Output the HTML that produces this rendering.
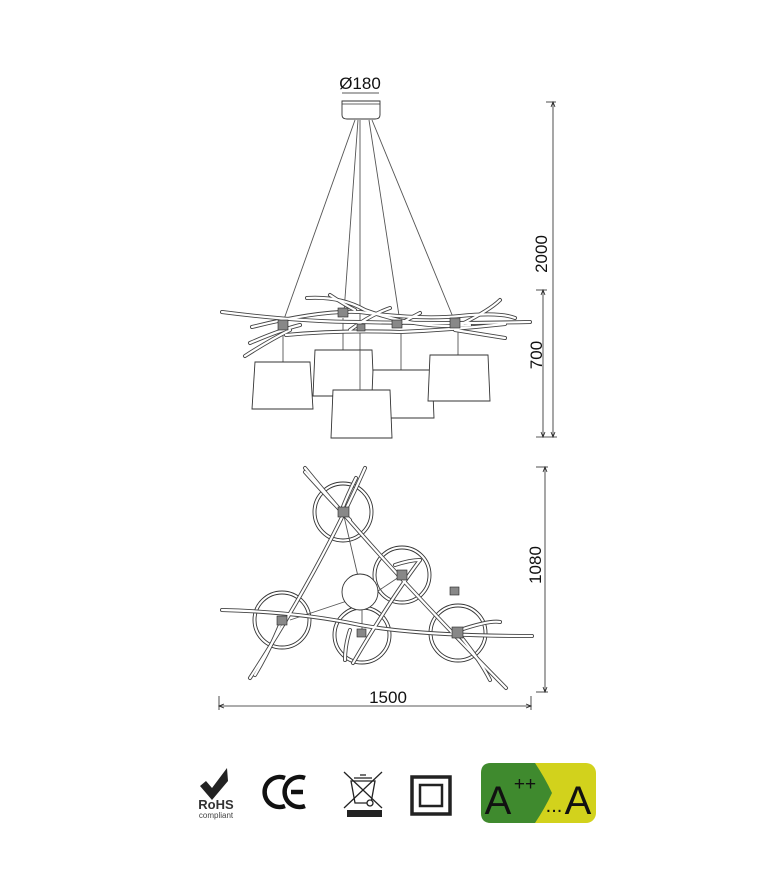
<!DOCTYPE html>
<html><head><meta charset="utf-8"><style>
html,body{margin:0;padding:0;background:#fff}
svg{display:block}
text{font-family:"Liberation Sans",Arial,sans-serif}
</style></head><body>
<svg width="761" height="896" viewBox="0 0 761 896" xmlns="http://www.w3.org/2000/svg">
<!-- ===== Side view ===== -->
<text x="360" y="89" font-size="17" text-anchor="middle" fill="#111">Ø180</text>
<line x1="342" y1="93" x2="379" y2="93" stroke="#222" stroke-width="0.8"/>
<path d="M342,101 H380 V115 Q380,119 375,119 H347 Q342,119 342,115 Z" fill="#fff" stroke="#333" stroke-width="0.9"/>
<line x1="342" y1="104" x2="380" y2="104" stroke="#333" stroke-width="0.7"/>
<g stroke="#555" stroke-width="0.9" fill="none">
<line x1="355" y1="120" x2="283" y2="322"/>
<line x1="358" y1="120" x2="344" y2="312"/>
<line x1="360" y1="120" x2="360" y2="390"/>
<line x1="369" y1="120" x2="400" y2="322"/>
<line x1="372" y1="120" x2="455" y2="322"/>
<line x1="283" y1="328" x2="283" y2="362"/>
<line x1="343" y1="318" x2="343" y2="350"/>
<line x1="401" y1="332" x2="401" y2="370"/>
<line x1="458" y1="332" x2="458" y2="355"/>
</g>
<g fill="none" stroke-linecap="round">
<g stroke="#444" stroke-width="4">
<path d="M222,312 Q300,322 360,322 Q440,324 530,322"/>
<path d="M252,327 Q320,310 360,312 Q420,320 460,316 Q500,312 515,318"/>
<path d="M250,343 Q280,330 300,325"/>
<path d="M245,356 Q270,340 290,330"/>
<path d="M307,298 Q340,296 365,310 Q420,330 470,325"/>
<path d="M330,295 Q345,305 355,310"/>
<path d="M350,330 Q370,315 390,308"/>
<path d="M400,324 Q410,318 420,313"/>
<path d="M455,330 Q480,334 505,338"/>
<path d="M460,325 Q490,310 500,300"/>
<path d="M286,335 Q340,330 400,332 Q450,330 505,324"/>
</g>
<g stroke="#fff" stroke-width="2.2">
<path d="M222,312 Q300,322 360,322 Q440,324 530,322"/>
<path d="M252,327 Q320,310 360,312 Q420,320 460,316 Q500,312 515,318"/>
<path d="M250,343 Q280,330 300,325"/>
<path d="M245,356 Q270,340 290,330"/>
<path d="M307,298 Q340,296 365,310 Q420,330 470,325"/>
<path d="M330,295 Q345,305 355,310"/>
<path d="M350,330 Q370,315 390,308"/>
<path d="M400,324 Q410,318 420,313"/>
<path d="M455,330 Q480,334 505,338"/>
<path d="M460,325 Q490,310 500,300"/>
<path d="M286,335 Q340,330 400,332 Q450,330 505,324"/>
</g>
</g>
<g fill="#888" stroke="#222" stroke-width="0.6">
<rect x="278" y="320" width="10" height="10"/>
<rect x="338" y="308" width="10" height="9"/>
<rect x="392" y="320" width="10" height="8"/>
<rect x="450" y="318" width="10" height="10"/>
<rect x="357" y="324" width="8" height="7"/>
</g>
<g fill="#fff" stroke="#333" stroke-width="0.9">
<path d="M315,350 H372 L374,396 H313 Z"/>
<path d="M373,370 H432 L434,418 H371 Z"/>
<path d="M255,362 H310 L313,409 H252 Z"/>
<path d="M430,355 H488 L490,401 H428 Z"/>
<path d="M333,390 H390 L392,438 H331 Z"/>
</g>
<line x1="360" y1="350" x2="360" y2="390" stroke="#555" stroke-width="0.9"/>
<g stroke="#222" stroke-width="0.8" fill="none">
<line x1="553" y1="102" x2="553" y2="437"/>
<line x1="546" y1="102" x2="556" y2="102"/>
<line x1="543" y1="290" x2="543" y2="437"/>
<line x1="536" y1="290" x2="547" y2="290"/>
<line x1="536" y1="437" x2="557" y2="437"/>
<path d="M551,107 L553,102 L555,107"/>
<path d="M551,432 L553,437 L555,432"/>
<path d="M541,295 L543,290 L545,295"/>
<path d="M541,432 L543,437 L545,432"/>
</g>
<text transform="translate(547,254) rotate(-90)" font-size="17" text-anchor="middle" fill="#111">2000</text>
<text transform="translate(542,355) rotate(-90)" font-size="17" text-anchor="middle" fill="#111">700</text>

<!-- ===== Top view ===== -->
<g fill="none" stroke="#333" stroke-width="0.9">
<circle cx="343" cy="512" r="30"/><circle cx="343" cy="512" r="27"/>
<circle cx="402" cy="575" r="29"/><circle cx="402" cy="575" r="26"/>
<circle cx="282" cy="620" r="29"/><circle cx="282" cy="620" r="26"/>
<circle cx="362" cy="635" r="29"/><circle cx="362" cy="635" r="26"/>
<circle cx="458" cy="633" r="29"/><circle cx="458" cy="633" r="26"/>
<line x1="343" y1="512" x2="360" y2="585" stroke="#555"/>
<line x1="290" y1="620" x2="350" y2="600" stroke="#555"/>
<line x1="372" y1="595" x2="402" y2="575" stroke="#555"/>
<line x1="362" y1="610" x2="362" y2="635" stroke="#555"/>
</g>
<circle cx="360" cy="592" r="18" fill="#fff" stroke="#333" stroke-width="0.9"/>
<g fill="none" stroke-linecap="round">
<g stroke="#444" stroke-width="4">
<path d="M305,468 Q380,560 506,688"/>
<path d="M365,468 Q320,570 250,678"/>
<path d="M222,610 Q300,612 360,625 Q420,636 532,636"/>
<path d="M305,472 Q330,500 350,520"/>
<path d="M356,478 Q345,500 340,515"/>
<path d="M420,560 Q390,600 353,663"/>
<path d="M255,675 Q270,650 282,620"/>
<path d="M458,633 Q480,660 490,680"/>
<path d="M350,630 Q345,645 345,660"/>
<path d="M395,565 Q410,560 420,560"/>
<path d="M460,630 Q490,620 500,622"/>
</g>
<g stroke="#fff" stroke-width="2.2">
<path d="M305,468 Q380,560 506,688"/>
<path d="M365,468 Q320,570 250,678"/>
<path d="M222,610 Q300,612 360,625 Q420,636 532,636"/>
<path d="M305,472 Q330,500 350,520"/>
<path d="M356,478 Q345,500 340,515"/>
<path d="M420,560 Q390,600 353,663"/>
<path d="M255,675 Q270,650 282,620"/>
<path d="M458,633 Q480,660 490,680"/>
<path d="M350,630 Q345,645 345,660"/>
<path d="M395,565 Q410,560 420,560"/>
<path d="M460,630 Q490,620 500,622"/>
</g>
</g>
<g fill="#888" stroke="#222" stroke-width="0.6">
<rect x="338" y="507" width="11" height="10"/>
<rect x="397" y="570" width="10" height="10"/>
<rect x="277" y="616" width="10" height="9"/>
<rect x="357" y="629" width="9" height="8"/>
<rect x="452" y="627" width="11" height="11"/>
<rect x="450" y="587" width="9" height="8"/>
</g>
<g stroke="#222" stroke-width="0.8" fill="none">
<line x1="545" y1="467" x2="545" y2="692"/>
<line x1="536" y1="467" x2="548" y2="467"/>
<line x1="536" y1="692" x2="548" y2="692"/>
<path d="M543,472 L545,467 L547,472"/>
<path d="M543,687 L545,692 L547,687"/>
<line x1="219" y1="706" x2="531" y2="706"/>
<line x1="219" y1="696" x2="219" y2="710"/>
<line x1="531" y1="696" x2="531" y2="710"/>
<path d="M224,704 L219,706 L224,708"/>
<path d="M526,704 L531,706 L526,708"/>
</g>
<text transform="translate(541,565) rotate(-90)" font-size="17" text-anchor="middle" fill="#111">1080</text>
<text x="388" y="703" font-size="17" text-anchor="middle" fill="#111">1500</text>

<!-- ===== Icons ===== -->
<path d="M200,786 L206,781 L212,788 L227,768 L228,781 L212,800 Z" fill="#222"/>
<text x="216" y="809" font-size="13" font-weight="bold" text-anchor="middle" fill="#333">RoHS</text>
<text x="216" y="818" font-size="8" text-anchor="middle" fill="#444">compliant</text>
<g fill="none" stroke="#111" stroke-width="4.5">
<path d="M285,778 A15,15 0 1 0 285,806"/>
<path d="M305,778 A15,15 0 1 0 305,806"/>
<line x1="291" y1="792" x2="303" y2="792"/>
</g>
<g stroke="#222" fill="none" stroke-width="1.3">
<line x1="344" y1="772" x2="382" y2="808"/>
<line x1="382" y1="772" x2="344" y2="808"/>
<path d="M351,781 H375 L371,803 H355 Z"/>
<path d="M354,778 H372 M360,775 H366"/>
<circle cx="370" cy="803" r="3" fill="#fff"/>
</g>
<rect x="347" y="810" width="35" height="7" fill="#222"/>
<rect x="412" y="777" width="38" height="37" fill="none" stroke="#222" stroke-width="3.5"/>
<rect x="420" y="785" width="22" height="21" fill="none" stroke="#222" stroke-width="2.5"/>
<rect x="481" y="763" width="115" height="60" rx="10" fill="#d2d21c"/>
<path d="M491,763 H535 Q545,778 552,793 Q545,808 535,823 H491 Q481,823 481,813 V773 Q481,763 491,763 Z" fill="#3f8a2e"/>
<text x="498" y="814" font-size="40" text-anchor="middle" fill="#111">A</text>
<text x="525" y="790" font-size="19" text-anchor="middle" fill="#111">++</text>
<text x="554" y="812" font-size="20" text-anchor="middle" fill="#111">...</text>
<text x="578" y="814" font-size="40" text-anchor="middle" fill="#111">A</text>
</svg>
</body></html>
